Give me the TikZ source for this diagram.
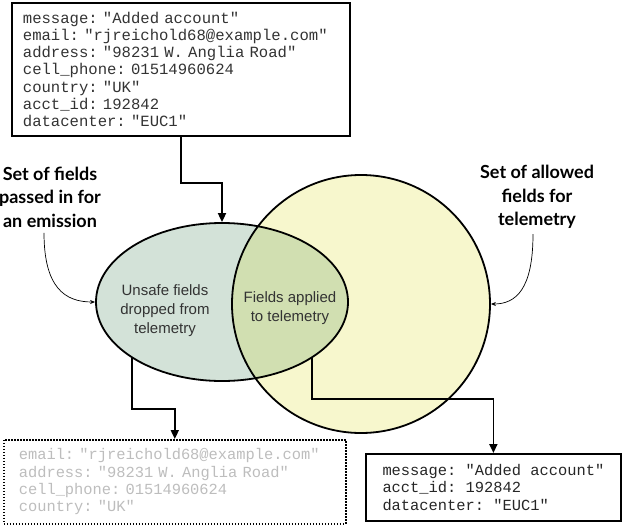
\documentclass[tikz,border=0pt]{standalone}
\usepackage{fontspec}
\setmainfont{Liberation Sans}
\newfontfamily\monof{Liberation Mono}[WordSpace={1,0,0},PunctuationSpace=WordSpace]
\newfontfamily\labf{Lato}
\usetikzlibrary{shapes.geometric,arrows.meta,calc}
\definecolor{emitfill}{HTML}{D3E2D8}
\definecolor{allowfill}{HTML}{F7F7CD}
\definecolor{bothfill}{HTML}{D1DFB1}
\definecolor{grayt}{HTML}{BDBDBD}
\begin{document}
\begin{tikzpicture}[x=1pt,y=-1pt,
  conn/.style={line width=1.8pt, -{Triangle[length=9pt,width=8pt]}},
  lab/.style={line width=0.7pt, -{Stealth[length=5pt,width=4pt]}},
  shapeline/.style={draw, line width=1.8pt, inner sep=0pt},
  boxline/.style={draw, line width=1.8pt, anchor=north west, align=left},
  monotext/.style={font=\monof\frenchspacing\fontsize{#1}{17.2}\selectfont},
  inlabel/.style={align=center, text=black!80, font=\fontsize{15}{19}\selectfont},
  sidelabel/.style={align=center, font=\labf\bfseries\fontsize{18}{23.5}\selectfont}]
\useasboundingbox (0,0) rectangle (622,525);
% fills
\fill[allowfill] (361,304) circle [radius=129pt];
\fill[emitfill] (222,302) ellipse [x radius=126pt, y radius=79pt];
\begin{scope}
  \clip (222,302) ellipse [x radius=126pt, y radius=79pt];
  \fill[bothfill] (361,304) circle [radius=129pt];
\end{scope}
% outlines
\node[shapeline, circle, minimum size=258pt] (circ) at (361,304) {};
\node[shapeline, ellipse, minimum width=252pt, minimum height=158pt] (emit) at (222,302) {};
% inner texts
\node[inlabel] (unsafe) at (165,311) {Unsafe fields\\dropped from\\telemetry};
\node[inlabel] (applied) at (290,308) {Fields applied\\to telemetry};
% side labels
\node[sidelabel] (setleft) at (50,197) {Set of fields\\passed in for\\an emission};
\node[sidelabel] (setright) at (537,197) {Set of allowed\\fields for\\telemetry};
% boxes
\node[boxline, monotext=15.6, text=black!80, text width=316pt, inner xsep=11pt, minimum height=133pt] (topbox) at (11,2)
  {message: "Added account"\\
   email: "rjreichold68@example.com"\\
   address: "98231 W. Anglia Road"\\
   cell\_phone: 01514960624\\
   country: "UK"\\
   acct\_id: 192842\\
   datacenter: "EUC1"};
\node[boxline, dash pattern=on 1.5pt off 1.5pt, line width=1.6pt, monotext=15.4, text=grayt, text width=312pt, inner xsep=15pt, minimum height=84pt] (dropbox) at (3,439)
  {email: "rjreichold68@example.com"\\
   address: "98231 W. Anglia Road"\\
   cell\_phone: 01514960624\\
   country: "UK"};
\node[boxline, monotext=15.4, text=black!85, minimum width=255pt, minimum height=67pt] (keepbox) at (365,453)
  {message: "Added account"\\
   acct\_id: 192842\\
   datacenter: "EUC1"};
% connectors
\draw[conn] (topbox.south) -- ++(0,46) -| (emit.north);
\draw[conn] (emit.212) -- (emit.212 |- 0,409) -| (dropbox.north);
\draw[conn] (emit.328) -- (emit.328 |- 0,399) -| (keepbox.north);
\draw[lab] ($(setleft.south)+(-6,2)$) .. controls +(0,55) and +(-30,0) .. (emit.west);
\draw[lab] ($(setright.south)+(-4,2)$) .. controls +(0,55) and +(25,0) .. (circ.east);
\end{tikzpicture}
\end{document}
